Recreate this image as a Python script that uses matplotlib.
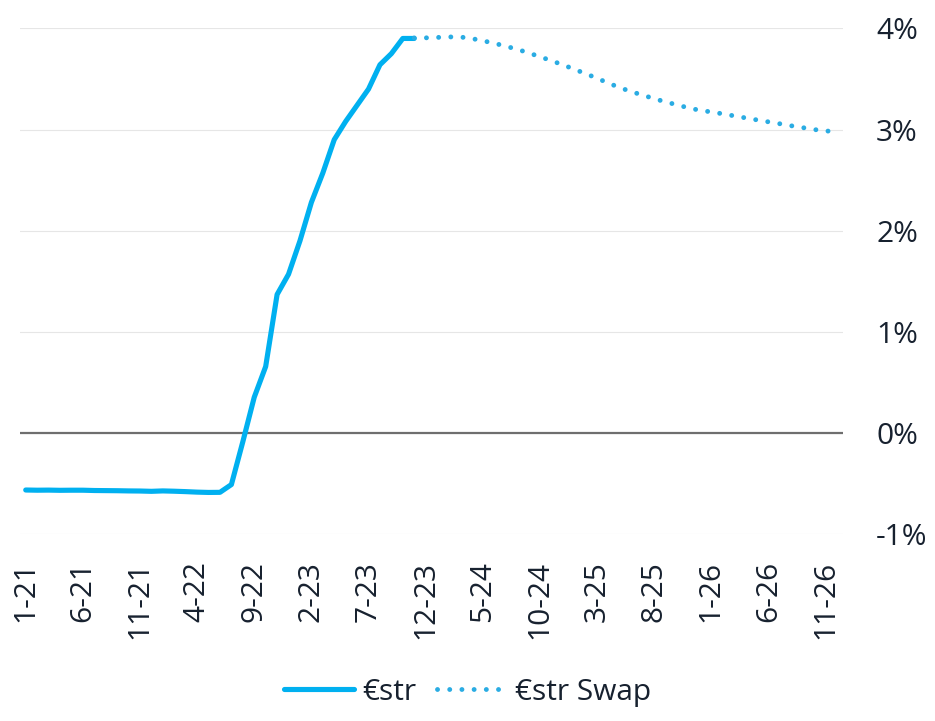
import matplotlib.pyplot as plt
import pandas as pd

plt.rcParams['font.family'] = ['Open Sans', 'DejaVu Sans']
plt.rcParams['axes.unicode_minus'] = False

# monthly categories Jan 2021 .. Dec 2026
months = pd.date_range("2021-01-01", "2026-12-01", freq="MS")
month_labels = [f"{d.month}-{d.strftime('%y')}" for d in months]

# €str monthly average, Jan 2021 .. Nov 2023
estr = [-0.562, -0.564, -0.563, -0.565, -0.564, -0.564, -0.567, -0.568, -0.569, -0.571, -0.572, -0.575,
        -0.571, -0.574, -0.578, -0.583, -0.586, -0.585, -0.508, -0.085, 0.355, 0.658, 1.37, 1.57,
        1.90, 2.28, 2.57, 2.90, 3.08, 3.24, 3.40, 3.64, 3.75, 3.90, 3.90]

# €str swap forward curve, Nov 2023 .. Dec 2026
swap = [3.905, 3.906, 3.91, 3.915, 3.915, 3.90, 3.877, 3.853, 3.823, 3.794, 3.757, 3.72,
        3.68, 3.64, 3.596, 3.552, 3.507, 3.458, 3.414, 3.374, 3.34, 3.305, 3.273, 3.244,
        3.214, 3.19, 3.174, 3.155, 3.135, 3.115, 3.095, 3.076, 3.057, 3.037, 3.019, 3.0,
        2.987, 2.976]

y_ticks = [-1, 0, 1, 2, 3, 4]
y_labels = ["-1%", "0%", "1%", "2%", "3%", "4%"]

text_color = '#17212F'
x_estr = list(range(len(estr)))
x_swap = list(range(len(estr) - 1, len(estr) - 1 + len(swap)))

fig = plt.figure(figsize=(9.35, 7.21), dpi=100)
ax = fig.add_axes([0.0214, 0.2589, 0.8799, 0.7018])

ax.axhline(0, color='#6E6E6E', lw=1.6, zorder=1)
ax.plot(x_estr, estr, color='#00B0F0', lw=3.7, solid_capstyle='round',
        solid_joinstyle='round', label='€str', zorder=3)
ax.plot(x_swap, swap, color='#2AACE3', lw=3.5, linestyle=(0, (0.01, 2.5)),
        dash_capstyle='round', label='€str Swap', zorder=3)

ax.set_xlim(-0.5, len(months) - 0.5)
ax.set_ylim(-1, 4)
ax.set_yticks(y_ticks)
ax.set_yticklabels(y_labels)
ax.yaxis.tick_right()
ax.yaxis.grid(True, color='#E6E6E6', lw=0.8, zorder=0)
ax.set_axisbelow(True)

tick_pos = list(range(0, len(months), 5))
ax.set_xticks(tick_pos)
ax.set_xticklabels([month_labels[i] for i in tick_pos], rotation=90)

ax.tick_params(axis='x', length=0, pad=19, labelsize=21.5, colors=text_color)
ax.tick_params(axis='y', length=0, pad=24, labelsize=21.5, colors=text_color)
for s in ax.spines.values():
    s.set_visible(False)

leg = fig.legend(loc='center', bbox_to_anchor=(0.5, 0.04), ncol=2, frameon=False,
                 fontsize=21.5, handlelength=2.35, handletextpad=0.25, columnspacing=0.7)
for t in leg.get_texts():
    t.set_color(text_color)

fig.savefig('out.png', dpi=100)
